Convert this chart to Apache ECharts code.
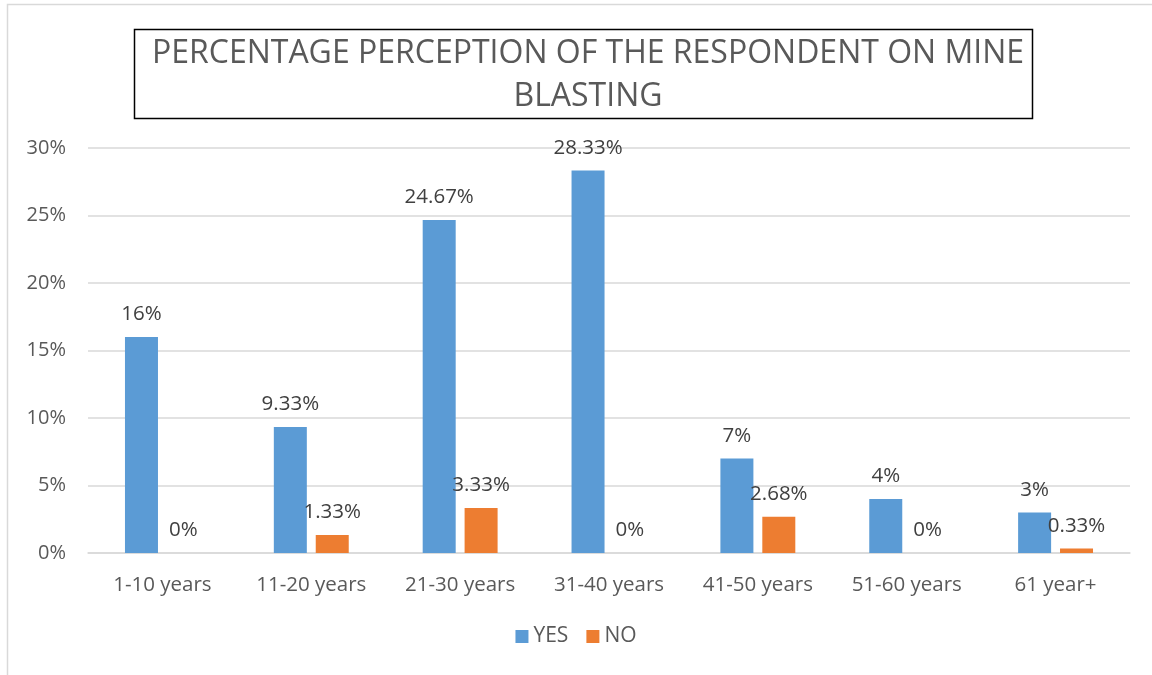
<!DOCTYPE html>
<html>
<head>
<meta charset="utf-8">
<script src="https://cdn.jsdelivr.net/npm/echarts@6/dist/echarts.min.js"></script>
<style>
  html, body { margin: 0; padding: 0; background: #fff; }
  #chart { width: 1152px; height: 675px; }
</style>
</head>
<body>
<div id="chart"></div>
<script>
var categories = ['1-10 years', '11-20 years', '21-30 years', '31-40 years', '41-50 years', '51-60 years', '61 year+'];
var yesValues = [16, 9.33, 24.67, 28.33, 7, 4, 3];
var noValues = [0, 1.33, 3.33, 0, 2.68, 0, 0.33];
var yTicks = [0, 5, 10, 15, 20, 25, 30];

var chartDom = document.getElementById('chart');
var myChart = echarts.init(chartDom);
var font = 'Open Sans';

function pct(v) {
    return v + '%';
}

var option = {
    animation: false,
    backgroundColor: '#fff',
    title: {
        text: 'PERCENTAGE PERCEPTION OF THE RESPONDENT ON MINE\nBLASTING',
        left: 583,
        top: 27,
        textAlign: 'center',
        textStyle: {
            fontFamily: font,
            fontSize: 32,
            fontWeight: 'normal',
            color: '#595959',
            lineHeight: 43
        }
    },
    graphic: [{
        type: 'rect',
        shape: { x: 7.5, y: 4.5, width: 1200, height: 700 },
        style: { fill: 'none', stroke: '#d9d9d9', lineWidth: 1.5 },
        z: -1
    }, {
        type: 'rect',
        shape: { x: 134.5, y: 29.5, width: 898, height: 89 },
        style: { fill: 'none', stroke: '#000', lineWidth: 1.5 }
    }],
    legend: {
        bottom: 23,
        left: 'center',
        itemWidth: 13,
        itemHeight: 13,
        itemGap: 18,
        icon: 'rect',
        textStyle: { fontFamily: font, fontSize: 21, color: '#595959' },
        data: ['YES', 'NO']
    },
    grid: {
        left: 88,
        right: 22,
        top: 148,
        bottom: 122
    },
    xAxis: {
        type: 'category',
        data: categories,
        axisTick: { show: false },
        axisLine: { lineStyle: { color: '#d9d9d9', width: 1.5 } },
        axisLabel: {
            fontFamily: font,
            fontSize: 20.5,
            color: '#595959',
            margin: 22
        }
    },
    yAxis: {
        type: 'value',
        min: yTicks[0],
        max: yTicks[yTicks.length - 1],
        interval: 5,
        axisLine: { show: false },
        axisTick: { show: false },
        splitLine: { lineStyle: { color: '#d9d9d9', width: 1.5 } },
        axisLabel: {
            fontFamily: font,
            fontSize: 20,
            color: '#595959',
            margin: 22,
            formatter: pct
        }
    },
    series: [{
        name: 'YES',
        type: 'bar',
        barWidth: 33,
        barGap: '27%',
        itemStyle: { color: '#5b9bd5' },
        label: {
            show: true,
            position: 'top',
            distance: 12,
            fontFamily: font,
            fontSize: 20.5,
            color: '#404040',
            formatter: function (p) { return pct(p.value); }
        },
        data: yesValues
    }, {
        name: 'NO',
        type: 'bar',
        barWidth: 33,
        itemStyle: { color: '#ed7d31' },
        label: {
            show: true,
            position: 'top',
            distance: 12,
            fontFamily: font,
            fontSize: 20.5,
            color: '#404040',
            formatter: function (p) { return pct(p.value); }
        },
        data: noValues
    }]
};

option && myChart.setOption(option);

window.onresize = function () {
    myChart.resize();
};
</script>
</body>
</html>
